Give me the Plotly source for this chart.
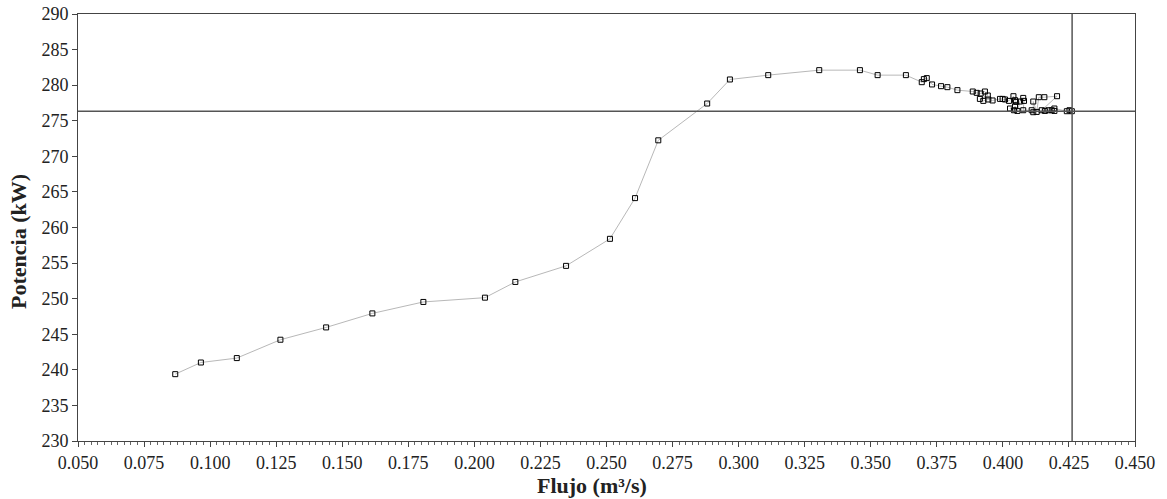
import plotly.graph_objects as go

flujo = [0.0868, 0.0965, 0.1101, 0.1266, 0.1439, 0.1614, 0.1807, 0.2040, 0.2155, 0.2347,
         0.2513, 0.2608, 0.2696, 0.2881, 0.2967, 0.3112, 0.3305, 0.3459, 0.3526, 0.3633,
         0.3693, 0.3701, 0.3712, 0.3732, 0.3766, 0.3790, 0.3828, 0.3886, 0.3901, 0.3916,
         0.3932, 0.3943, 0.3913, 0.3926, 0.3945, 0.3961, 0.3989, 0.3999, 0.4008, 0.4023,
         0.4040, 0.4046, 0.4050, 0.4027, 0.4042, 0.4046, 0.4055, 0.4065, 0.4077, 0.4080,
         0.4077, 0.4109, 0.4115, 0.4115, 0.4128, 0.4136, 0.4157, 0.4205, 0.4147, 0.4159,
         0.4172, 0.4185, 0.4195, 0.4195, 0.4242, 0.4252, 0.4261]
potencia = [239.39, 241.03, 241.65, 244.23, 245.96, 247.93, 249.54, 250.14, 252.35, 254.61,
            258.41, 264.13, 272.25, 277.42, 280.80, 281.41, 282.11, 282.11, 281.41, 281.41,
            280.42, 280.85, 280.99, 280.10, 279.86, 279.72, 279.30, 279.11, 278.92, 278.83,
            279.11, 278.55, 278.07, 277.79, 277.99, 277.85, 278.07, 278.07, 277.99, 277.79,
            278.45, 277.89, 277.65, 276.72, 276.48, 277.04, 276.38, 277.70, 278.21, 277.79,
            276.48, 276.48, 276.20, 277.70, 276.24, 278.31, 278.31, 278.45, 276.48, 276.38,
            276.48, 276.48, 276.38, 276.72, 276.34, 276.48, 276.34]

ref_flujo = 0.4262
ref_potencia = 276.35

x_ticks = [0.050, 0.075, 0.100, 0.125, 0.150, 0.175, 0.200, 0.225, 0.250,
           0.275, 0.300, 0.325, 0.350, 0.375, 0.400, 0.425, 0.450]
y_ticks = [230, 235, 240, 245, 250, 255, 260, 265, 270, 275, 280, 285, 290]

x_title = "Flujo (m³/s)"
y_title = "Potencia (kW)"

font = "Liberation Serif"

fig = go.Figure()
fig.add_trace(go.Scatter(
    x=flujo, y=potencia, mode="lines+markers",
    line=dict(color="#b8b8b8", width=1),
    marker=dict(symbol="square-open", size=5, color="black", line=dict(width=1, color="black")),
    showlegend=False,
))

fig.add_shape(type="line", xref="x", yref="paper", x0=ref_flujo, x1=ref_flujo, y0=0, y1=1,
              line=dict(color="#555555", width=1.5))
fig.add_shape(type="line", xref="paper", yref="y", x0=0, x1=1, y0=ref_potencia, y1=ref_potencia,
              line=dict(color="#555555", width=1.5))

fig.add_annotation(text=f"<b>{x_title}</b>", xref="paper", yref="paper",
                   x=(592 - 78) / 1057, y=-(485 - 441) / 427, xanchor="center", yanchor="middle",
                   showarrow=False, font=dict(family=font, size=22, color="#222"))
fig.add_annotation(text=f"<b>{y_title}</b>", xref="paper", yref="paper",
                   x=-(78 - 19) / 1057, y=(441 - 242) / 427, xanchor="center", yanchor="middle",
                   textangle=-90, showarrow=False, font=dict(family=font, size=22, color="#222"))

fig.update_layout(
    width=1167, height=499,
    margin=dict(l=78, r=32, t=14, b=58, autoexpand=False),
    paper_bgcolor="white", plot_bgcolor="white",
    font=dict(family=font, size=18, color="#222"),
    xaxis=dict(
        range=[0.05, 0.45], tickvals=x_ticks, ticktext=[f"{v:.3f}" for v in x_ticks],
        showgrid=False, zeroline=False, showline=True, mirror=True, automargin=False,
        linecolor="#444", linewidth=1, ticks="outside", ticklen=5, tickcolor="#444",
        minor=dict(dtick=0.0025, tick0=0.05, ticks="outside", ticklen=3, tickcolor="#666", showgrid=False),
    ),
    yaxis=dict(
        range=[230, 290], tickvals=y_ticks,
        showgrid=False, zeroline=False, showline=True, mirror=True, automargin=False,
        linecolor="#444", linewidth=1, ticks="outside", ticklen=5, tickcolor="#444",
    ),
)

fig.write_html("out.html", config={"displayModeBar": False},
               post_script="document.body.style.margin='0';document.body.style.overflow='hidden';")
